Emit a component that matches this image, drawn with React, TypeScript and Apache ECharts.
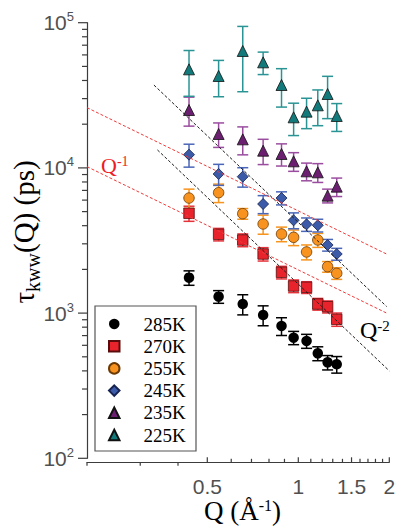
import { useEffect, useRef } from 'react';
import * as echarts from 'echarts';

// Scattering vector Q (Å^-1) shared by every temperature
const qValues = [0.435, 0.545, 0.655, 0.765, 0.88, 0.965, 1.065, 1.16, 1.25, 1.34];

const temperatures = ['285K', '270K', '255K', '245K', '235K', '225K'];

// KWW relaxation times (ps) and their ± errors, one pair per temperature
const tau285 = [1754, 1298, 1155, 970, 815, 677, 643, 528, 458, 444];
const err285 = [200, 130, 183, 152, 114, 71, 71, 58, 52, 58];
const tau270 = [4866, 3487, 3187, 2553, 1909, 1537, 1505, 1155, 1107, 906];
const err270 = [580, 345, 322, 270, 190, 154, 140, 107, 105, 95];
const tau255 = [6200, 6750, 4840, 4109, 3506, 3325, 2636, 3187, 2088, 1879];
const err255 = [940, 980, 410, 616, 404, 410, 311, 352, 176, 172];
const tau245 = [12340, 9080, 8700, 5640, 6200, 4355, 4088, 4024, 2944, 2553];
const err245 = [2220, 1500, 1330, 800, 640, 545, 433, 405, 272, 240];
const tau235 = [25050, 17120, 15730, 13140, 12470, 11100, 9470, 9320, 6440, 7430];
const err235 = [5660, 3280, 3430, 2600, 2170, 1630, 1320, 1380, 700, 1080];
const tau225 = [47730, 42950, 63870, 53330, 37230, 22300, 24400, 26980, 32280, 22780];
const err225 = [16600, 12040, 30400, 9400, 11000, 5600, 5770, 7450, 10440, 4950];

// Power-law guide lines (end points on the log-log plane)
const q1Upper = [[0.2, 26000], [1.96, 2550]];
const q1Lower = [[0.2, 10200], [1.96, 1000]];
const q2Upper = [[0.333, 37200], [1.96, 1110]];
const q2Lower = [[0.342, 13300], [2.0, 400]];

// Axis ticks
const xMajorTicks = [0.5, 1, 1.5, 2];
const xTickLabels = ['0.5', '1', '1.5', '2'];
const xMinorTicks = [0.2, 0.3, 0.4, 0.6, 0.7, 0.8, 0.9, 1.1, 1.2, 1.3, 1.4, 1.6, 1.7, 1.8, 1.9];
const yMajorTicks = [100, 1000, 10000, 100000];
const yMinorTicks = [
  200, 300, 400, 500, 600, 700, 800, 900,
  2000, 3000, 4000, 5000, 6000, 7000, 8000, 9000,
  20000, 30000, 40000, 50000, 60000, 70000, 80000, 90000,
];

const SERIF = 'Liberation Serif, Times New Roman, serif';
const SANS = 'Liberation Sans, Arial, sans-serif';
const AXIS_COLOR = '#3c3c3c';
const LABEL_COLOR = '#505050';
const X_OFFSET = 4;

const looks = [
  { symbol: 'circle', size: 10.5, fill: '#000000', border: '#000000', err: '#000000' },
  { symbol: 'rect', size: 10.5, fill: '#e8232b', border: '#5a0c0c', err: '#e5323a' },
  { symbol: 'circle', size: 10.5, fill: '#f7931e', border: '#6b3a05', err: '#f7941d' },
  { symbol: 'diamond', size: 11, fill: '#3b5aa8', border: '#16224f', err: '#4a66b8' },
  { symbol: 'triangle', size: 11, fill: '#6c1f70', border: '#111111', err: '#9a4d9f' },
  { symbol: 'triangle', size: 11, fill: '#127a7a', border: '#111111', err: '#2a9494' },
];

const tauSets = [tau285, tau270, tau255, tau245, tau235, tau225];
const errSets = [err285, err270, err255, err245, err235, err225];

function buildOption() {
  const series: any[] = [];

  temperatures.forEach((name, k) => {
    const look = looks[k];
    const tau = tauSets[k];
    const err = errSets[k];
    series.push({
      name: name + ' error',
      type: 'custom',
      silent: true,
      encode: { x: 0, y: [1, 2] },
      data: qValues.map((q, i) => [q, tau[i] - err[i], tau[i] + err[i]]),
      renderItem: (_p: any, api: any) => {
        const top = api.coord([api.value(0), api.value(2)]);
        const bot = api.coord([api.value(0), api.value(1)]);
        const hw = 5.5;
        const st = { stroke: look.err, lineWidth: 1.5 };
        return {
          type: 'group',
          children: [
            { type: 'line', shape: { x1: top[0], y1: top[1], x2: bot[0], y2: bot[1] }, style: st },
            { type: 'line', shape: { x1: top[0] - hw, y1: top[1], x2: top[0] + hw, y2: top[1] }, style: st },
            { type: 'line', shape: { x1: bot[0] - hw, y1: bot[1], x2: bot[0] + hw, y2: bot[1] }, style: st },
          ],
        };
      },
    });
    series.push({
      name,
      type: 'scatter',
      symbol: look.symbol,
      symbolSize: look.size,
      data: qValues.map((q, i) => [q, tau[i]]),
      itemStyle: {
        color: look.fill,
        borderColor: look.border,
        borderWidth: k === 0 ? 0 : 0.8,
        opacity: 1,
      },
    });
  });

  const guide = (data: number[][], color: string) => ({
    type: 'line',
    silent: true,
    showSymbol: false,
    symbol: 'none',
    data,
    lineStyle: { color, width: 1, type: [3, 2] },
    z: 5,
  });
  series.push(guide(q1Upper, '#f03a3a'));
  series.push(guide(q1Lower, '#f03a3a'));
  series.push(guide(q2Upper, '#1e1e1e'));
  series.push(guide(q2Lower, '#1e1e1e'));

  // x ticks: first ones point down, the rest point up into the plot
  const xTickRender = (major: boolean) => (_p: any, api: any) => {
    const q = api.value(0);
    const p = api.coord([q, 100]);
    const y0 = p[1] + X_OFFSET;
    const len = major ? 5 : 3.5;
    const dir = q < 0.45 ? 1 : -1;
    return {
      type: 'line',
      shape: { x1: p[0], y1: y0, x2: p[0], y2: y0 + dir * len },
      style: { stroke: AXIS_COLOR, lineWidth: 1.2 },
    };
  };
  series.push({
    type: 'custom', silent: true, data: xMinorTicks.map((q) => [q, 100]),
    renderItem: xTickRender(false),
  });
  series.push({
    type: 'custom', silent: true, data: xMajorTicks.map((q) => [q, 100]),
    renderItem: xTickRender(true),
  });
  series.push({
    type: 'custom', silent: true, data: xMajorTicks.map((q) => [q, 100]),
    renderItem: (p: any, api: any) => {
      const c = api.coord([api.value(0), 100]);
      return {
        type: 'text',
        x: c[0],
        y: c[1] + X_OFFSET + 24.5,
        style: {
          text: xTickLabels[p.dataIndex],
          align: 'center',
          verticalAlign: 'middle',
          fontFamily: SANS,
          fontSize: 21,
          fill: LABEL_COLOR,
        },
      };
    },
  });

  const yTickRender = (major: boolean) => (_p: any, api: any) => {
    const c = api.coord([0.2, api.value(1)]);
    const len = major ? 9 : 5;
    return {
      type: 'line',
      shape: { x1: c[0], y1: c[1], x2: c[0] - len, y2: c[1] },
      style: { stroke: AXIS_COLOR, lineWidth: 1.2 },
    };
  };
  series.push({
    type: 'custom', silent: true, data: yMinorTicks.map((v) => [0.2, v]),
    renderItem: yTickRender(false),
  });
  series.push({
    type: 'custom', silent: true, data: yMajorTicks.map((v) => [0.2, v]),
    renderItem: yTickRender(true),
  });

  return {
    animation: false,
    backgroundColor: '#ffffff',
    grid: { left: 87, top: 22.7, width: 302.3, height: 435.6, containLabel: false },
    xAxis: {
      type: 'log',
      logBase: 10,
      min: 0.2,
      max: 2,
      offset: X_OFFSET,
      axisLine: { show: true, lineStyle: { color: AXIS_COLOR, width: 1.2 } },
      axisTick: { show: false },
      axisLabel: { show: false },
      splitLine: { show: false },
    },
    yAxis: {
      type: 'log',
      logBase: 10,
      min: 100,
      max: 100000,
      axisLine: { show: true, lineStyle: { color: AXIS_COLOR, width: 1.2 } },
      axisTick: { show: false },
      splitLine: { show: false },
      axisLabel: {
        margin: 13,
        formatter: (v: number) => `{b|10}{s|${Math.round(Math.log10(v))}}`,
        rich: {
          b: { fontFamily: SANS, fontSize: 21, lineHeight: 25, color: LABEL_COLOR, verticalAlign: 'middle' },
          s: { fontFamily: SANS, fontSize: 13, lineHeight: 13, color: LABEL_COLOR, verticalAlign: 'top' },
        },
      },
    },
    legend: {
      data: temperatures,
      orient: 'vertical',
      left: 108,
      top: 314.5,
      padding: 0,
      itemWidth: 10.5,
      itemHeight: 10.5,
      itemGap: 3.2,
      selectedMode: false,
      textStyle: {
        fontFamily: SERIF,
        fontSize: 19,
        lineHeight: 19,
        color: '#000000',
        padding: [0, 0, 0, 19],
      },
    },
    graphic: [
      {
        type: 'rect',
        shape: { x: 95, y: 306, width: 101, height: 145 },
        style: { fill: 'none', stroke: '#555555', lineWidth: 1.2 },
        z: 1,
      },
      {
        type: 'text',
        x: 242.5,
        y: 511,
        style: {
          text: '{m|Q (Å}{s|-1}{m|)}',
          align: 'center',
          verticalAlign: 'middle',
          rich: {
            m: { fontFamily: SERIF, fontSize: 27, lineHeight: 28, fill: '#000', verticalAlign: 'top' },
            s: { fontFamily: SERIF, fontSize: 16, lineHeight: 16, fill: '#000', verticalAlign: 'top' },
          },
        },
      },
      {
        type: 'text',
        x: 24,
        y: 232,
        rotation: Math.PI / 2,
        style: {
          text: '{m|τ}{k|kww}{m|(Q) (ps)}',
          align: 'center',
          verticalAlign: 'middle',
          rich: {
            m: { fontFamily: SERIF, fontSize: 29, lineHeight: 30, fill: '#000', verticalAlign: 'top' },
            k: { fontFamily: SERIF, fontSize: 20, lineHeight: 20, fill: '#000', verticalAlign: 'top', padding: [14, 0, 0, 0] },
          },
        },
      },
      {
        type: 'text',
        x: 101,
        y: 166,
        style: {
          text: '{m|Q}{s|-1}',
          align: 'left',
          verticalAlign: 'middle',
          rich: {
            m: { fontFamily: SERIF, fontSize: 22, lineHeight: 24, fill: '#ee1c25', verticalAlign: 'top' },
            s: { fontFamily: SERIF, fontSize: 14, lineHeight: 14, fill: '#ee1c25', verticalAlign: 'top' },
          },
        },
      },
      {
        type: 'text',
        x: 360,
        y: 331,
        style: {
          text: '{m|Q}{s|-2}',
          align: 'left',
          verticalAlign: 'middle',
          rich: {
            m: { fontFamily: SERIF, fontSize: 24, lineHeight: 26, fill: '#000', verticalAlign: 'top' },
            s: { fontFamily: SERIF, fontSize: 15, lineHeight: 15, fill: '#000', verticalAlign: 'top' },
          },
        },
      },
    ],
    series,
  };
}

export default function App() {
  const ref = useRef<HTMLDivElement>(null);
  useEffect(() => {
    if (!ref.current) return;
    const chart = echarts.init(ref.current, undefined, { renderer: 'svg' });
    chart.setOption(buildOption() as any);
    return () => chart.dispose();
  }, []);
  return (
    <div
      ref={ref}
      style={{ position: 'fixed', left: 0, top: 0, width: 396, height: 529, background: '#fff' }}
    />
  );
}
